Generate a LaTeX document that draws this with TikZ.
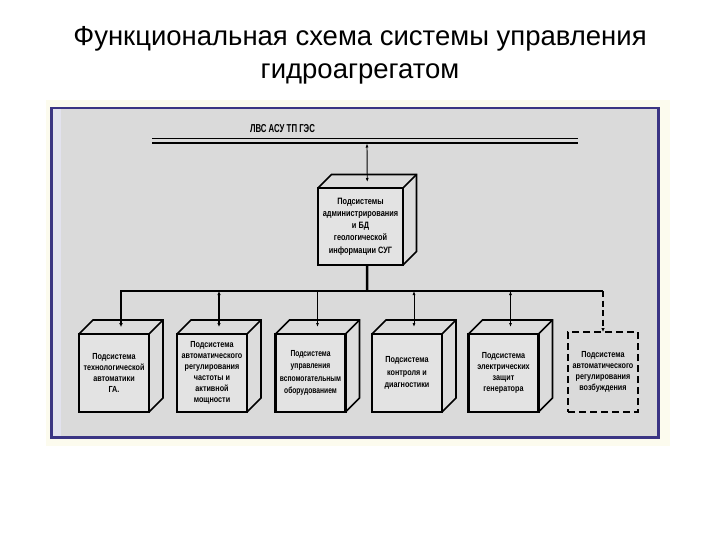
\documentclass[tikz,border=0pt]{standalone}
\usepackage{fontspec}
\setmainfont{Liberation Sans}
\newfontfamily\boxfont[FakeStretch=0.82]{Liberation Sans}
\newfontfamily\narrowboxfont[FakeStretch=0.76]{Liberation Sans}
\newfontfamily\cboxfont[FakeStretch=0.8]{Liberation Sans}
\newfontfamily\lvsfont[FakeStretch=0.68]{Liberation Sans}
\usetikzlibrary{arrows.meta,calc,backgrounds}
\definecolor{panelgray}{HTML}{DADADA}
\definecolor{navy}{HTML}{3B3584}
\definecolor{frontgray}{HTML}{E3E3E3}
\definecolor{sidegray}{HTML}{DCDCDC}
\definecolor{paleframe}{HTML}{FCFBEE}
\definecolor{innerstrip}{HTML}{E2E2EE}
\newcommand\drawcubefaces[2]{%
  \fill[sidegray] (#1.north west) -- ++(#2,-#2) -- ($(#1.north east)+(#2,-#2)$)
     -- ($(#1.south east)+(#2,-#2)$) -- (#1.south east) -- (#1.north east) -- cycle;
  \draw[sideline] (#1.north west) -- ++(#2,-#2) -- ($(#1.north east)+(#2,-#2)$)
     -- ($(#1.south east)+(#2,-#2)$) -- (#1.south east);
  \draw[sideline] (#1.north east) -- ++(#2,-#2);
}
\tikzset{
  frontbox/.style={draw=black, line width=2.2pt, fill=frontgray, minimum width=70pt,
    minimum height=78pt, inner sep=0pt, outer sep=0pt, align=center,
    font=\boxfont\bfseries\fontsize{8.8}{11}\selectfont},
  centerbox/.style={frontbox, minimum width=85pt, minimum height=77pt,
    font=\cboxfont\bfseries\fontsize{9.2}{12.2}\selectfont},
  dashbox/.style={frontbox, fill=none, dash pattern=on 7pt off 4pt, minimum height=80pt},
  sideline/.style={line width=1.7pt, line join=miter},
  busline/.style={line width=2.5pt},
  thinarrow/.style={line width=0.9pt, {Latex[length=4pt,width=3pt]}-{Latex[length=4pt,width=3pt]}},
  midarrow/.style={line width=1.6pt, {Latex[length=4pt,width=3.5pt]}-{Latex[length=4pt,width=3.5pt]}},
  downarrow/.style={line width=0.9pt, -{Latex[length=4pt,width=3pt]}},
  titlefont/.style={font=\fontsize{27.5}{33}\selectfont}
}
\begin{document}
\begin{tikzpicture}[x=1pt,y=-1pt]
\useasboundingbox (0,0) rectangle (720,540);

% title
\node[titlefont, anchor=base] (t1) at (360,46) {Функциональная схема системы управления};
\node[titlefont, anchor=base] (t2) at (360,79) {гидроагрегатом};

% boxes (front faces)
\node[centerbox] (c) at (360.5,226.5) {Подсистемы\\администрирования\\и БД\\геологической\\информации СУГ};
\node[frontbox] (b1) at (114,373) {Подсистема\\технологической\\автоматики\\ГА.};
\node[frontbox] (b2) at (212,373) {Подсистема\\автоматического\\регулирования\\частоты и\\активной\\мощности};
\node[frontbox, font=\narrowboxfont\bfseries\fontsize{8.8}{12.5}\selectfont] (b3) at (310.5,373) {Подсистема\\управления\\вспомогательным\\оборудованием};
\node[frontbox, font=\boxfont\bfseries\fontsize{8.8}{12.5}\selectfont] (b4) at (407,373) {Подсистема\\контроля и\\диагностики};
\node[frontbox] (b5) at (503.5,373) {Подсистема\\электрических\\защит\\генератора};
\node[dashbox] (b6) at (603,372) {Подсистема\\автоматического\\регулирования\\возбуждения};

\begin{scope}[on background layer]
  \fill[white] (0,0) rectangle (720,540);
  \fill[paleframe] (46,100) rectangle (670,446);
  \fill[panelgray] (51.3,108) rectangle (658.7,437.7);
  \fill[innerstrip] (53,109.5) rectangle (61,436);
  \draw[navy, line width=2.7pt] (51.3,108) rectangle (658.7,437.7);
  \drawcubefaces{c}{13.5}
  \drawcubefaces{b1}{14}
  \drawcubefaces{b2}{14}
  \drawcubefaces{b3}{14}
  \drawcubefaces{b4}{14}
  \drawcubefaces{b5}{14}
\end{scope}

% network bus
\coordinate (busL) at (152,140.6);
\coordinate (busR) at (578,140.6);
\draw[line width=1.8pt, double=panelgray, double distance=2.4pt] (busL) -- (busR);
\node[font=\lvsfont\bfseries\fontsize{11.5}{11.5}\selectfont, inner sep=0pt] (lvs) at (282.5,129) {ЛВС АСУ ТП ГЭС};

% link bus <-> central box
\coordinate (busA) at (367,143.5);
\coordinate (ctop) at ($(c.north)+(6.75,-6)$);
\draw[thinarrow] (busA) -- (ctop);

% distribution bus
\coordinate (jc) at (367,291);
\coordinate (dR) at (603,291);
\draw[busline] ($(c.south)+(6.75,0)$) -- (jc);
\coordinate (t1) at ($(b1.north)+(7,-7)$);
\coordinate (t2) at ($(b2.north)+(7,-7)$);
\coordinate (t3) at ($(b3.north)+(7,-7)$);
\coordinate (t4) at ($(b4.north)+(7,-7)$);
\coordinate (t5) at ($(b5.north)+(7,-7)$);
\draw[busline, line join=miter, -{Latex[length=4pt,width=4pt]}] (dR) -| (t1);
\draw[midarrow] (t2 |- jc) -- (t2);
\draw[downarrow] (t3 |- jc) -- (t3);
\draw[thinarrow] (t4 |- jc) -- (t4);
\draw[thinarrow] (t5 |- jc) -- (t5);
\draw[line width=2pt, dash pattern=on 6pt off 3.5pt, -{Latex[length=4pt,width=3.5pt]}] (dR) -- (b6.north);
\end{tikzpicture}
\end{document}
